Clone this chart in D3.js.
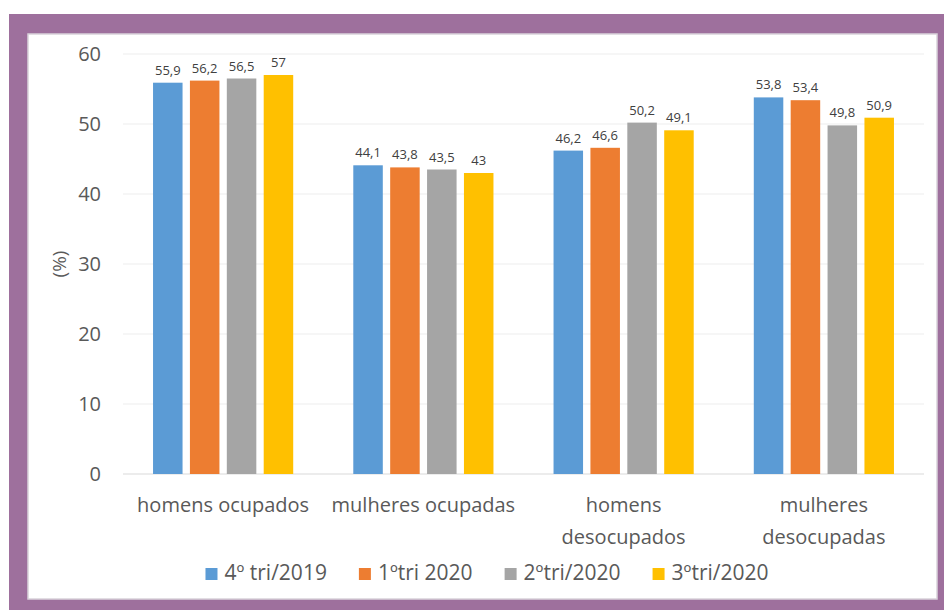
<!DOCTYPE html>
<html>
<head>
<meta charset="utf-8">
<script src="https://cdn.jsdelivr.net/npm/d3@7"></script>
<style>
  body { margin: 0; background: #fff; }
  svg { display: block; font-family: "Open Sans", sans-serif; }
</style>
</head>
<body>
<div id="chart"></div>
<script>
const categories = ["homens ocupados", "mulheres ocupadas", "homens desocupados", "mulheres desocupadas"];
const seriesNames = ["4º tri/2019", "1ºtri 2020", "2ºtri/2020", "3ºtri/2020"];
const tri2019_4 = [55.9, 44.1, 46.2, 53.8];
const tri2020_1 = [56.2, 43.8, 46.6, 53.4];
const tri2020_2 = [56.5, 43.5, 50.2, 49.8];
const tri2020_3 = [57, 43, 49.1, 50.9];
const yTicks = [0, 10, 20, 30, 40, 50, 60];
const colors = ["#5b9bd5", "#ed7d31", "#a5a5a5", "#ffc000"];

const seriesValues = [tri2019_4, tri2020_1, tri2020_2, tri2020_3];

const width = 944, height = 610;
const svg = d3.select("#chart").append("svg")
    .attr("width", width)
    .attr("height", height);

// purple frame
svg.append("rect").attr("x", 9).attr("y", 14).attr("width", 935).attr("height", 596).attr("fill", "#9e709d");
svg.append("rect").attr("x", 28).attr("y", 34).attr("width", 909).attr("height", 565)
    .attr("fill", "#fff").attr("stroke", "#d9d2da").attr("stroke-width", 1.5);

const plot = {left: 123, right: 924, top: 54, bottom: 474};

const x0 = d3.scaleBand().domain(categories)
    .range([plot.left, plot.right])
    .paddingInner(0.3).paddingOuter(0.15);
const x1 = d3.scaleBand().domain(seriesNames)
    .range([0, x0.bandwidth()])
    .paddingInner(0.2).paddingOuter(0);
const y = d3.scaleLinear().domain([0, 60]).range([plot.bottom, plot.top]);

// gridlines
svg.append("g").selectAll("line").data(yTicks).join("line")
    .attr("x1", plot.left).attr("x2", plot.right)
    .attr("y1", d => y(d)).attr("y2", d => y(d))
    .attr("stroke", d => d === 0 ? "#d9d9d9" : "#eeeeee")
    .attr("stroke-width", 1.2);

// y axis labels
const yAxis = svg.append("g")
    .attr("transform", `translate(${plot.left}, 0)`)
    .call(d3.axisLeft(y).tickValues(yTicks).tickSize(0).tickPadding(22));
yAxis.select(".domain").remove();
yAxis.selectAll("text")
    .attr("font-family", "Open Sans")
    .attr("font-size", 20)
    .attr("fill", "#595959");

svg.append("text")
    .attr("transform", `translate(66, ${(plot.top + plot.bottom) / 2}) rotate(-90)`)
    .attr("text-anchor", "middle")
    .attr("font-size", 19)
    .attr("fill", "#595959")
    .text("(%)");

// bars
const groups = svg.append("g").selectAll("g").data(categories).join("g")
    .attr("transform", d => `translate(${x0(d)}, 0)`);

groups.selectAll("rect")
    .data((c, i) => seriesNames.map((s, j) => ({s, j, v: seriesValues[j][i]})))
    .join("rect")
    .attr("x", d => x1(d.s))
    .attr("width", x1.bandwidth())
    .attr("y", d => y(d.v))
    .attr("height", d => y(0) - y(d.v))
    .attr("fill", d => colors[d.j]);

groups.selectAll("text.val")
    .data((c, i) => seriesNames.map((s, j) => ({s, j, v: seriesValues[j][i]})))
    .join("text")
    .attr("class", "val")
    .attr("x", d => x1(d.s) + x1.bandwidth() / 2)
    .attr("y", d => y(d.v) - 8)
    .attr("text-anchor", "middle")
    .attr("font-size", 13)
    .attr("fill", "#404040")
    .text(d => String(d.v).replace(".", ","));

// category labels, wrapped like excel
const catLabels = svg.append("g").selectAll("text").data(categories).join("text")
    .attr("text-anchor", "middle")
    .attr("font-size", 20)
    .attr("fill", "#595959")
    .attr("x", d => x0(d) + x0.bandwidth() / 2)
    .attr("y", 512);

catLabels.each(function(d) {
    const t = d3.select(this);
    t.text(d);
    if (this.getComputedTextLength() > 196) {
        const words = d.split(" ");
        t.text(null);
        words.forEach((w, i) => {
            t.append("tspan")
                .attr("x", x0(d) + x0.bandwidth() / 2)
                .attr("dy", i === 0 ? 0 : 32)
                .text(w);
        });
    }
});

// legend
const legend = svg.append("g");
const items = legend.selectAll("g").data(seriesNames).join("g");
items.append("rect")
    .attr("width", 12).attr("height", 12)
    .attr("y", -12)
    .attr("fill", (d, i) => colors[i]);
items.append("text")
    .attr("x", 19)
    .attr("y", 0)
    .attr("font-size", 21)
    .attr("fill", "#595959")
    .text(d => d);

let pos = 0;
items.each(function() {
    d3.select(this).attr("transform", `translate(${pos}, 0)`);
    pos += this.getBBox().width + 32;
});
const legendWidth = pos - 32;
legend.attr("transform", `translate(${487 - legendWidth / 2}, 580)`);
</script>
</body>
</html>
